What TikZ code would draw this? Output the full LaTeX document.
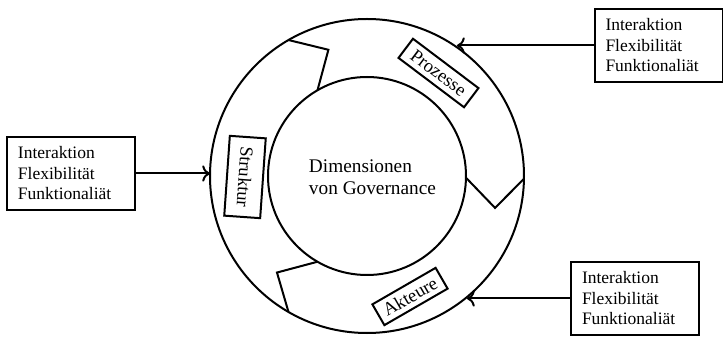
\documentclass[tikz,border=0pt]{standalone}
\usepackage{fontspec}
\setmainfont{Liberation Serif}
\usetikzlibrary{calc,arrows.meta}

\tikzset{
  infobox/.style={draw,align=left,text width=106pt,inner xsep=11pt,minimum height=73pt,
    font=\fontsize{17.5}{20.5}\selectfont},
  dimlabel/.style={draw,font=\fontsize{18.5}{21}\selectfont,minimum height=24pt,inner xsep=5pt},
  inflow/.style={-{To[scale=1.3]},line width=2pt}
}

\begin{document}
\begin{tikzpicture}[x=1pt,y=1pt,line width=2pt]
\useasboundingbox (-367,-161) rectangle (356,176);

\draw (0,0) circle[radius=157pt];
\draw (0,0) circle[radius=99pt];

\foreach \a in {120,-1,240}{
  \draw (\a:99) -- ({\a-13}:132) -- (\a:157);
};

\node[align=left,anchor=west,inner sep=0pt,font=\fontsize{19.3}{22}\selectfont] (dim) at (-59,-1) {Dimensionen\\von Governance};

\node[dimlabel,rotate=-94,minimum width=80pt,minimum height=36pt] (struk) at (-122,-1) {Struktur};
\node[dimlabel,rotate=-37,minimum width=82pt] (proz) at (71.5,103) {Prozesse};
\node[dimlabel,rotate=30,minimum width=73pt] (akt) at (43,-120.5) {Akteure};

\node[infobox] (inS) at (-296,2.5) {Interaktion\\Flexibilität\\Funktionaliät};
\node[infobox] (inP) at (291.5,130.5) {Interaktion\\Flexibilität\\Funktionaliät};
\node[infobox] (inA) at (268,-122.5) {Interaktion\\Flexibilität\\Funktionaliät};

\coordinate (tipS) at (-157,2.5);
\coordinate (tipP) at (90,130.5);
\coordinate (tipA) at (100,-122.5);

\draw[inflow] (inS) -- (tipS);
\draw[inflow] (inP) -- (tipP);
\draw[inflow] (inA) -- (tipA);

\end{tikzpicture}
\end{document}
